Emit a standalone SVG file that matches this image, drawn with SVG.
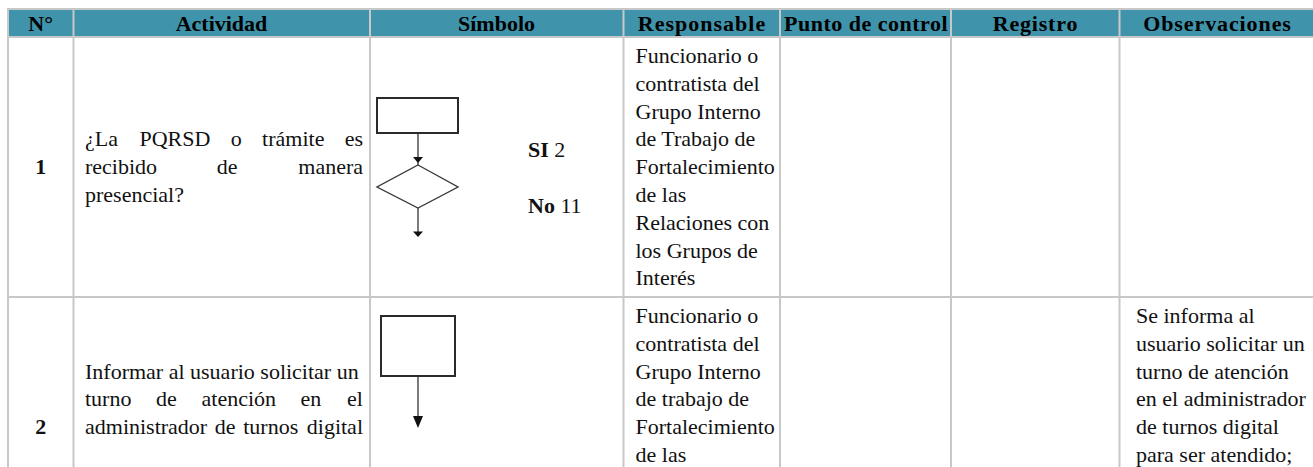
<svg xmlns="http://www.w3.org/2000/svg" width="1313" height="467" viewBox="0 0 1313 467">
<style>
.grid{stroke:#c8c8c8;stroke-width:2;fill:none}
.hd{font-family:"Liberation Serif","Times New Roman",serif;font-weight:bold;font-size:22px;fill:#000;text-anchor:middle}
.tx{font-family:"Liberation Serif","Times New Roman",serif;font-size:22px;fill:#111}
.b{font-weight:bold}
.end{text-anchor:end}
.mid{text-anchor:middle}
.shape{fill:#fff;stroke:#2a2a2a;stroke-width:2}
.dia{fill:#fff;stroke:#3a3a3a;stroke-width:1.4}
.con{stroke:#333;stroke-width:1.3;fill:none}
.ah{fill:#111}
</style>
<rect width="1313" height="467" fill="#fff"/>
<g id="table">
<rect x="8" y="9" width="1310" height="28" fill="#3f93ab"/>
<line class="grid" x1="7" y1="9" x2="1313" y2="9"/>
<line class="grid" x1="7" y1="37" x2="1313" y2="37"/>
<line class="grid" x1="7" y1="297" x2="1313" y2="297"/>
<line class="grid" x1="8" y1="8" x2="8" y2="467"/>
<line class="grid" x1="73.5" y1="8" x2="73.5" y2="467"/>
<line class="grid" x1="370" y1="8" x2="370" y2="467"/>
<line class="grid" x1="623.5" y1="8" x2="623.5" y2="467"/>
<line class="grid" x1="780" y1="8" x2="780" y2="467"/>
<line class="grid" x1="951" y1="8" x2="951" y2="467"/>
<line class="grid" x1="1119.5" y1="8" x2="1119.5" y2="467"/>
</g>
<g id="header">
<text class="hd" x="40.7" y="31">N°</text>
<text class="hd" x="221.5" y="31">Actividad</text>
<text class="hd" x="496.5" y="31">Símbolo</text>
<text class="hd" x="702" y="31" letter-spacing="1">Responsable</text>
<text class="hd" x="866" y="31" letter-spacing="0.5">Punto de control</text>
<text class="hd" x="1035.5" y="31" letter-spacing="0.8">Registro</text>
<text class="hd" x="1217.5" y="31" letter-spacing="0.9">Observaciones</text>
</g>
<g id="row1">
<text class="tx b mid" x="40.7" y="174.2">1</text>
<text class="tx" x="85" y="146.4">¿La</text>
<text class="tx" x="139.4" y="146.4">PQRSD</text>
<text class="tx" x="230.7" y="146.4">o</text>
<text class="tx" x="262.1" y="146.4">trámite</text>
<text class="tx end" x="363" y="146.4">es</text>
<text class="tx" x="85" y="174.2">recibido</text>
<text class="tx" x="216.8" y="174.2">de</text>
<text class="tx end" x="363" y="174.2">manera</text>
<text class="tx" x="85" y="202">presencial?</text>
<text class="tx" x="528" y="157"><tspan class="b">SI</tspan> 2</text>
<text class="tx" x="528" y="213"><tspan class="b">No</tspan> 11</text>
<text class="tx" x="635.5" y="63">Funcionario o</text>
<text class="tx" x="635.5" y="90.8">contratista del</text>
<text class="tx" x="635.5" y="118.6">Grupo Interno</text>
<text class="tx" x="635.5" y="146.4">de Trabajo de</text>
<text class="tx" x="635.5" y="174.2">Fortalecimiento</text>
<text class="tx" x="635.5" y="202">de las</text>
<text class="tx" x="635.5" y="229.8">Relaciones con</text>
<text class="tx" x="635.5" y="257.6">los Grupos de</text>
<text class="tx" x="635.5" y="285.4">Interés</text>
</g>
<g id="row2">
<text class="tx b mid" x="40.7" y="434.2">2</text>
<text class="tx" x="85" y="378.6">Informar al usuario solicitar un</text>
<text class="tx" x="85" y="406.4">turno</text>
<text class="tx" x="156" y="406.4">de</text>
<text class="tx" x="201.5" y="406.4">atención</text>
<text class="tx" x="300.6" y="406.4">en</text>
<text class="tx end" x="363" y="406.4">el</text>
<text class="tx" x="85" y="434.2">administrador</text>
<text class="tx" x="214.8" y="434.2">de</text>
<text class="tx" x="243.2" y="434.2">turnos</text>
<text class="tx end" x="363" y="434.2">digital</text>
<text class="tx" x="635.5" y="323">Funcionario o</text>
<text class="tx" x="635.5" y="350.8">contratista del</text>
<text class="tx" x="635.5" y="378.6">Grupo Interno</text>
<text class="tx" x="635.5" y="406.4">de trabajo de</text>
<text class="tx" x="635.5" y="434.2">Fortalecimiento</text>
<text class="tx" x="635.5" y="462">de las</text>
<text class="tx" x="1136" y="323">Se informa al</text>
<text class="tx" x="1136" y="350.8">usuario solicitar un</text>
<text class="tx" x="1136" y="378.6">turno de atención</text>
<text class="tx" x="1136" y="406.4">en el administrador</text>
<text class="tx" x="1136" y="434.2">de turnos digital</text>
<text class="tx" x="1136" y="462">para ser atendido;</text>
</g>
<g id="node-proceso-1"><rect class="shape" x="377" y="98" width="81" height="35"/></g>
<g id="node-decision-1"><polygon class="dia" points="418,165 458,187 418,208 377,187"/></g>
<g id="node-proceso-2"><rect class="shape" x="381" y="316" width="74" height="60"/></g>
<g id="connectors">
<line class="con" x1="418" y1="133" x2="418" y2="165"/>
<polygon class="ah" points="413,157 423,157 418,163"/>
<line class="con" x1="418" y1="208" x2="418" y2="236"/>
<polygon class="ah" points="413,231.5 423,231.5 418,237"/>
<line class="con" x1="418" y1="376" x2="418" y2="418"/>
<polygon class="ah" points="413,416 423,416 418,428"/>
</g>
</svg>
